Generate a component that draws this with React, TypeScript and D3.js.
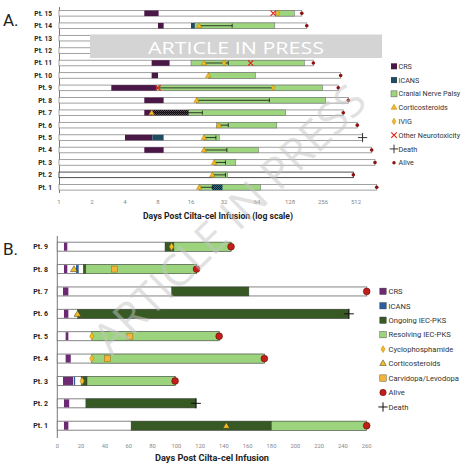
import React from 'react';
import * as d3 from 'd3';

// ---- Panel A: log-scale timeline, 15 patients ----
const patientsA = ['Pt. 15', 'Pt. 14', 'Pt. 13', 'Pt. 12', 'Pt. 11', 'Pt. 10', 'Pt. 9', 'Pt. 8', 'Pt. 7', 'Pt. 6', 'Pt. 5', 'Pt. 4', 'Pt. 3', 'Pt. 2', 'Pt. 1'];
const followUpA = [164, 182, 300, 300, 209, 371, 353, 436, 392, 526, 588, 712, 763, 484, 791];
const ticksA = [1, 2, 4, 8, 16, 32, 64, 128, 256, 512];

const crsA: [string, number, number][] = [
  ['Pt. 15', 6, 8.1], ['Pt. 14', 8, 9], ['Pt. 11', 7, 10.2], ['Pt. 10', 7, 8], ['Pt. 9', 3, 7.8],
  ['Pt. 8', 6, 9], ['Pt. 7', 6, 7.1], ['Pt. 5', 4, 7.1], ['Pt. 4', 6, 9],
];
const crsHatchA: [string, number, number][] = [['Pt. 7', 7.1, 15.2]];
const icansA: [string, number, number][] = [['Pt. 14', 16, 17.3], ['Pt. 5', 7.1, 9]];
const icansHatchA: [string, number, number][] = [['Pt. 1', 25, 31]];
const palsyA: [string, number, number][] = [
  ['Pt. 15', 94, 140], ['Pt. 14', 17.3, 93], ['Pt. 11', 16, 173], ['Pt. 10', 23, 62], ['Pt. 9', 8, 254],
  ['Pt. 8', 18, 271], ['Pt. 7', 15.2, 117], ['Pt. 6', 27.4, 97], ['Pt. 5', 21, 29], ['Pt. 4', 21, 66],
  ['Pt. 3', 26, 41], ['Pt. 2', 25, 34.6], ['Pt. 1', 19, 69],
];
const steroidCourseA: [string, number, number][] = [
  ['Pt. 14', 19, 38], ['Pt. 11', 21, 35], ['Pt. 9', 8, 90], ['Pt. 8', 18, 83], ['Pt. 7', 7, 20.3],
  ['Pt. 6', 28.8, 35], ['Pt. 5', 21, 27], ['Pt. 4', 21, 34], ['Pt. 3', 26, 33], ['Pt. 2', 25, 33], ['Pt. 1', 19, 25],
];
const steroidStartA: [string, number][] = [
  ['Pt. 14', 19], ['Pt. 11', 21], ['Pt. 10', 23], ['Pt. 8', 18], ['Pt. 7', 7], ['Pt. 6', 28.8],
  ['Pt. 5', 21], ['Pt. 4', 21], ['Pt. 3', 26], ['Pt. 2', 25], ['Pt. 1', 19],
];
const ivigA: [string, number][] = [['Pt. 15', 99.5], ['Pt. 11', 32], ['Pt. 9', 90]];
const neurotoxA: [string, number][] = [['Pt. 15', 90], ['Pt. 11', 56], ['Pt. 9', 8]];
const deathA = ['Pt. 5'];
const aliveA = ['Pt. 15', 'Pt. 14', 'Pt. 11', 'Pt. 10', 'Pt. 9', 'Pt. 8', 'Pt. 7', 'Pt. 6', 'Pt. 4', 'Pt. 3', 'Pt. 2', 'Pt. 1'];
const legendA = ['CRS', 'ICANS', 'Cranial Nerve Palsy', 'Corticosteroids', 'IVIG', 'Other Neurotoxicity', 'Death', 'Alive'];

// ---- Panel B: linear timeline, 9 patients ----
const patientsB = ['Pt. 9', 'Pt. 8', 'Pt. 7', 'Pt. 6', 'Pt. 5', 'Pt. 4', 'Pt. 3', 'Pt. 2', 'Pt. 1'];
const followUpB = [146, 117, 260, 245, 136, 174, 99, 116.5, 260];
const ticksB = [0, 20, 40, 60, 80, 100, 120, 140, 160, 180, 200, 220, 240, 260];
const crsB: [string, number, number][] = [
  ['Pt. 9', 5.6, 8.4], ['Pt. 8', 5.6, 8.4], ['Pt. 7', 4.8, 9.3], ['Pt. 6', 5.6, 9.3], ['Pt. 5', 7, 9.3],
  ['Pt. 4', 7, 11.3], ['Pt. 3', 4.8, 13.4], ['Pt. 2', 5.6, 10], ['Pt. 1', 5.6, 9.3],
];
const icansB: [string, number, number][] = [['Pt. 8', 15.7, 18], ['Pt. 3', 14, 15]];
const ongoingB: [string, number, number][] = [
  ['Pt. 9', 90.5, 98], ['Pt. 8', 21.8, 24], ['Pt. 7', 96, 161], ['Pt. 6', 17, 245], ['Pt. 3', 20, 25],
  ['Pt. 2', 24, 116.5], ['Pt. 1', 62, 180],
];
const resolvingB: [string, number, number][] = [
  ['Pt. 9', 98, 146], ['Pt. 8', 24, 117], ['Pt. 5', 29, 136], ['Pt. 4', 29, 174], ['Pt. 3', 25, 99], ['Pt. 1', 180, 260],
];
const cyclophosphamideB: [string, number][] = [['Pt. 9', 96], ['Pt. 5', 29], ['Pt. 4', 29], ['Pt. 3', 20.8]];
const steroidsB: [string, number][] = [['Pt. 8', 14], ['Pt. 6', 17], ['Pt. 1', 142]];
const carvidopaB: [string, number][] = [['Pt. 8', 48], ['Pt. 5', 61], ['Pt. 4', 42]];
const aliveB = ['Pt. 9', 'Pt. 8', 'Pt. 7', 'Pt. 5', 'Pt. 4', 'Pt. 3', 'Pt. 1'];
const deathB = ['Pt. 6', 'Pt. 2'];
const legendB = ['CRS', 'ICANS', 'Ongoing IEC-PKS', 'Resolving IEC-PKS', 'Cyclophosphamide', 'Corticosteroids', 'Carvidopa/Levodopa', 'Alive', 'Death'];

const FONT = 'Roboto, "Liberation Sans", sans-serif';
const C = {
  crsA: '#4a1846', icansA: '#1f4c60', green: '#9dd67f', crsB: '#6b2a72', icansB: '#2a5f9e',
  dark: '#375a24', light: '#9bd47c', yellow: '#f5bd1f', yellowEdge: '#b07d10', red: '#c0201a',
};

const sym = (type: d3.SymbolType, size: number) => d3.symbol(type, size)() as string;

export default function App() {
  const xA = d3.scaleLog().base(2).domain([1, 1024]).range([59, 389]);
  const yA = d3.scalePoint<string>().domain(patientsA).range([13.3, 187.3]);
  const hA = 5.6;
  const xB = d3.scaleLinear().domain([0, 260]).range([57.3, 366.7]);
  const yB = d3.scalePoint<string>().domain(patientsB).range([246.7, 425.7]);
  const hB = 9;

  const segA = (rows: [string, number, number][], fill: string, stroke = 'none') =>
    rows.map(([p, a, b], i) => (
      <rect key={p + i + fill} x={xA(a)} y={yA(p)! - hA / 2} width={xA(b) - xA(a)} height={hA}
        fill={fill} stroke={stroke} strokeWidth={0.5} />
    ));
  const segB = (rows: [string, number, number][], fill: string) =>
    rows.map(([p, a, b], i) => (
      <rect key={p + i + fill} x={xB(a)} y={yB(p)! - hB / 2} width={xB(b) - xB(a)} height={hB}
        fill={fill} stroke="#3a3a3a" strokeWidth={0.4} />
    ));

  const legendSymbolA = (k: string) => {
    if (k === 'CRS') return <rect x={-3} y={-3} width={6} height={6} fill={C.crsA} />;
    if (k === 'ICANS') return <rect x={-3} y={-3} width={6} height={6} fill={C.icansA} />;
    if (k === 'Cranial Nerve Palsy') return <rect x={-3} y={-3} width={6} height={6} fill={C.green} stroke="#555" strokeWidth={0.5} />;
    if (k === 'Corticosteroids') return <path d={sym(d3.symbolTriangle, 14)} fill={C.yellow} stroke={C.yellowEdge} strokeWidth={0.5} />;
    if (k === 'IVIG') return <path d={sym(d3.symbolDiamond, 12)} fill={C.yellow} stroke={C.yellowEdge} strokeWidth={0.5} />;
    if (k === 'Other Neurotoxicity') return <path d={sym(d3.symbolTimes, 22)} stroke="#e0261c" strokeWidth={1.2} fill="none" />;
    if (k === 'Death') return <path d={sym(d3.symbolPlus, 26)} stroke="#222" strokeWidth={0.9} fill="none" />;
    return <circle r={1.7} fill="#8b1010" />;
  };
  const legendSymbolB = (k: string) => {
    const sq = (f: string) => <rect x={-3.2} y={-3.2} width={6.4} height={6.4} fill={f} stroke="#333" strokeWidth={0.4} />;
    if (k === 'CRS') return sq(C.crsB);
    if (k === 'ICANS') return sq(C.icansB);
    if (k === 'Ongoing IEC-PKS') return sq(C.dark);
    if (k === 'Resolving IEC-PKS') return sq(C.light);
    if (k === 'Cyclophosphamide') return <path d={sym(d3.symbolDiamond, 14)} fill={C.yellow} stroke={C.yellowEdge} strokeWidth={0.5} />;
    if (k === 'Corticosteroids') return <path d={sym(d3.symbolTriangle, 18)} fill={C.yellow} stroke="#333" strokeWidth={0.5} />;
    if (k === 'Carvidopa/Levodopa') return sq('#f2b53a');
    if (k === 'Alive') return <circle r={3.2} fill={C.red} stroke="#5a0000" strokeWidth={0.5} />;
    return <path d={sym(d3.symbolPlus, 30)} stroke="#111" strokeWidth={1} fill="none" />;
  };

  return (
    <svg width={474} height={472} style={{ position: 'absolute', left: 0, top: 0, background: '#fff' }} fontFamily={FONT}>
      <defs>
        <pattern id="hatchA" width={2} height={2} patternUnits="userSpaceOnUse">
          <rect width={2} height={2} fill="#5a4a58" />
          <rect width={1} height={1} fill="#111" />
          <rect x={1} y={1} width={1} height={1} fill="#111" />
        </pattern>
        <pattern id="hatchI" width={2} height={2} patternUnits="userSpaceOnUse">
          <rect width={2} height={2} fill="#2d6f8a" />
          <rect width={1} height={1} fill="#0b1f2a" />
          <rect x={1} y={1} width={1} height={1} fill="#0b1f2a" />
        </pattern>
      </defs>

      {/* ---------- Panel A ---------- */}
      <text x={3} y={26} fontSize={17} fill="#222">A.</text>
      <line x1={59.5} x2={59.5} y1={7} y2={193} stroke="#555" strokeWidth={0.8} />
      {patientsA.map((p, i) => (
        <g key={p}>
          <text x={52} y={yA(p)! + 2.4} fontSize={6.6} fontWeight={700} textAnchor="end" fill="#222">{p}</text>
          <rect x={xA(1)} y={yA(p)! - hA / 2} width={xA(followUpA[i]) - xA(1)} height={hA}
            fill="#fff" stroke={p === 'Pt. 2' ? '#222' : '#8a8a8a'} strokeWidth={0.8} />
        </g>
      ))}
      {segA(palsyA, C.green, '#666')}
      {segA(crsA, C.crsA)}
      {segA(crsHatchA, 'url(#hatchA)')}
      {segA(icansA, C.icansA)}
      {segA(icansHatchA, 'url(#hatchI)')}
      {steroidCourseA.map(([p, a, b]) => (
        <g key={'sc' + p} stroke="#111" strokeWidth={0.8}>
          <line x1={xA(a)} x2={xA(b)} y1={yA(p)} y2={yA(p)} />
          <line x1={xA(b)} x2={xA(b)} y1={yA(p)! - 2} y2={yA(p)! + 2} />
        </g>
      ))}
      {steroidStartA.map(([p, d]) => (
        <path key={'tr' + p} transform={`translate(${xA(d)},${yA(p)! + 0.4})`} d={sym(d3.symbolTriangle, 13)}
          fill={C.yellow} stroke={C.yellowEdge} strokeWidth={0.5} />
      ))}
      {ivigA.map(([p, d]) => (
        <path key={'iv' + p} transform={`translate(${xA(d)},${yA(p)})`} d={sym(d3.symbolDiamond, 12)}
          fill={C.yellow} stroke={C.yellowEdge} strokeWidth={0.5} />
      ))}
      {neurotoxA.map(([p, d]) => (
        <path key={'nt' + p} transform={`translate(${xA(d)},${yA(p)})`} d={sym(d3.symbolTimes, 20)}
          stroke="#e0261c" strokeWidth={1.2} fill="none" />
      ))}
      {patientsA.map((p, i) => aliveA.includes(p) ? (
        <circle key={'al' + p} cx={xA(followUpA[i])} cy={yA(p)} r={1.8} fill="#8b1010" />
      ) : deathA.includes(p) ? (
        <path key={'de' + p} transform={`translate(${xA(followUpA[i])},${yA(p)})`} d={sym(d3.symbolPlus, 30)}
          stroke="#222" strokeWidth={0.9} fill="none" />
      ) : null)}
      {ticksA.map((t) => (
        <text key={'ta' + t} x={xA(t)} y={203.5} fontSize={6} textAnchor="middle" fill="#888">{t}</text>
      ))}
      <text x={143} y={219} fontSize={8.2} fontWeight={700} fill="#222" textLength={150} lengthAdjust="spacingAndGlyphs">Days Post Cilta-cel Infusion (log scale)</text>
      {legendA.map((k, i) => (
        <g key={'la' + k} transform={`translate(394,${66.3 + i * 13.77})`}>
          {legendSymbolA(k)}
          <text x={4.5} y={2.6} fontSize={7.2} fill="#333">{k}</text>
        </g>
      ))}
      <rect x={90} y={34.5} width={292} height={23.5} fill="#d4d4d4" />
      <text x={148} y={54} fontSize={17} fill="#fff" fontFamily='"Open Sans", sans-serif'
        textLength={176} lengthAdjust="spacingAndGlyphs">ARTICLE IN PRESS</text>

      {/* ---------- Panel B ---------- */}
      <text x={3} y={255} fontSize={17} fill="#222">B.</text>
      <line x1={57.3} x2={57.3} y1={236} y2={438} stroke="#555" strokeWidth={0.8} />
      {patientsB.map((p, i) => (
        <g key={'b' + p}>
          <text x={48} y={yB(p)! + 2.6} fontSize={7} fontWeight={700} textAnchor="end" fill="#222">{p}</text>
          <rect x={xB(0)} y={yB(p)! - hB / 2} width={xB(followUpB[i]) - xB(0)} height={hB}
            fill="#fff" stroke="#777" strokeWidth={0.9} />
        </g>
      ))}
      {segB(ongoingB, C.dark)}
      {segB(resolvingB, C.light)}
      {crsB.map(([p, a, b]) => (
        <rect key={'cb' + p} x={xB(a)} y={yB(p)! - hB / 2 + 0.5} width={xB(b) - xB(a)} height={hB - 1} fill={C.crsB} />
      ))}
      {icansB.map(([p, a, b]) => (
        <rect key={'ib' + p} x={xB(a)} y={yB(p)! - hB / 2 + 0.5} width={xB(b) - xB(a)} height={hB - 1} fill={C.icansB} />
      ))}
      {cyclophosphamideB.map(([p, d]) => (
        <path key={'cy' + p} transform={`translate(${xB(d)},${yB(p)})`} d={sym(d3.symbolDiamond, 16)}
          fill={C.yellow} stroke={C.yellowEdge} strokeWidth={0.5} />
      ))}
      {steroidsB.map(([p, d]) => (
        <path key={'sb' + p} transform={`translate(${xB(d)},${yB(p)! + 0.6})`} d={sym(d3.symbolTriangle, 20)}
          fill={C.yellow} stroke="#333" strokeWidth={0.5} />
      ))}
      {carvidopaB.map(([p, d]) => (
        <rect key={'cv' + p} x={xB(d) - 3} y={yB(p)! - 3} width={6} height={6} fill="#f2b53a" stroke="#9a6a10" strokeWidth={0.5} />
      ))}
      {patientsB.map((p, i) => aliveB.includes(p) ? (
        <circle key={'ab' + p} cx={xB(followUpB[i])} cy={yB(p)} r={3.4} fill={C.red} stroke="#5a0000" strokeWidth={0.5} />
      ) : deathB.includes(p) ? (
        <path key={'db' + p} transform={`translate(${xB(followUpB[i])},${yB(p)})`} d={sym(d3.symbolPlus, 34)}
          stroke="#111" strokeWidth={1} fill="none" />
      ) : null)}
      {ticksB.map((t) => (
        <text key={'tb' + t} x={xB(t)} y={447.5} fontSize={5.8} textAnchor="middle" fill="#888">{t}</text>
      ))}
      <text x={155} y={461} fontSize={8.4} fontWeight={700} fill="#222" textLength={114} lengthAdjust="spacingAndGlyphs">Days Post Cilta-cel Infusion</text>
      {legendB.map((k, i) => (
        <g key={'lb' + k} transform={`translate(383,${291.3 + i * 14.46})`}>
          {legendSymbolB(k)}
          <text x={5.5} y={2.8} fontSize={7.6} fill="#333">{k}</text>
        </g>
      ))}

      {/* diagonal stamp across both panels */}
      <text x={0} y={0} transform="translate(232,222) rotate(-44.5)" fontSize={44} textAnchor="middle"
        dominantBaseline="middle" fill="#c4c4c4" fillOpacity={0.5} fontFamily='"Open Sans", sans-serif'>ARTICLE IN PRESS</text>
    </svg>
  );
}
